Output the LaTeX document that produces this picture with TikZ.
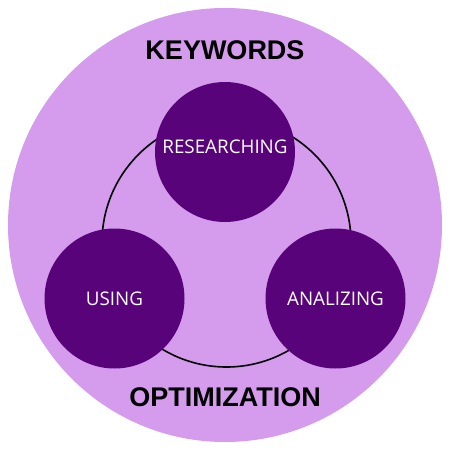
\documentclass[tikz,border=0pt]{standalone}
\usepackage{fontspec}
\setmainfont{Liberation Sans}
\newfontfamily\labelfont{Open Sans}
\usetikzlibrary{positioning}
\definecolor{lilac}{RGB}{213,155,237}
\definecolor{grape}{RGB}{89,3,123}

\begin{document}
\begin{tikzpicture}[x=1pt,y=-1pt,
  stage/.style={circle, fill=grape, minimum size=140pt, inner sep=0pt, text=white,
    font=\labelfont\fontsize{18.8}{20}\selectfont},
  title/.style={font=\bfseries\fontsize{27}{28}\selectfont}]
\useasboundingbox (0,0) rectangle (450,450);
  \fill[lilac] (225,225) circle (217);
%  ring behind the stages
  \draw[line width=1.6pt] (226.5,242.5) circle (124.5);
  \node[stage, label={[text=white, font=\labelfont\fontsize{18.8}{20}\selectfont, yshift=5pt]center:RESEARCHING}] (res) at (225,152) {};
  \node[stage] (use) at (114.5,298.5) {USING};
  \node[stage] (ana) at (335.5,298.5) {ANALIZING};
  \node[title] (kw) at (225,50) {KEYWORDS};
  \node[title] (opt) at (225,397) {OPTIMIZATION};
\end{tikzpicture}
\end{document}
